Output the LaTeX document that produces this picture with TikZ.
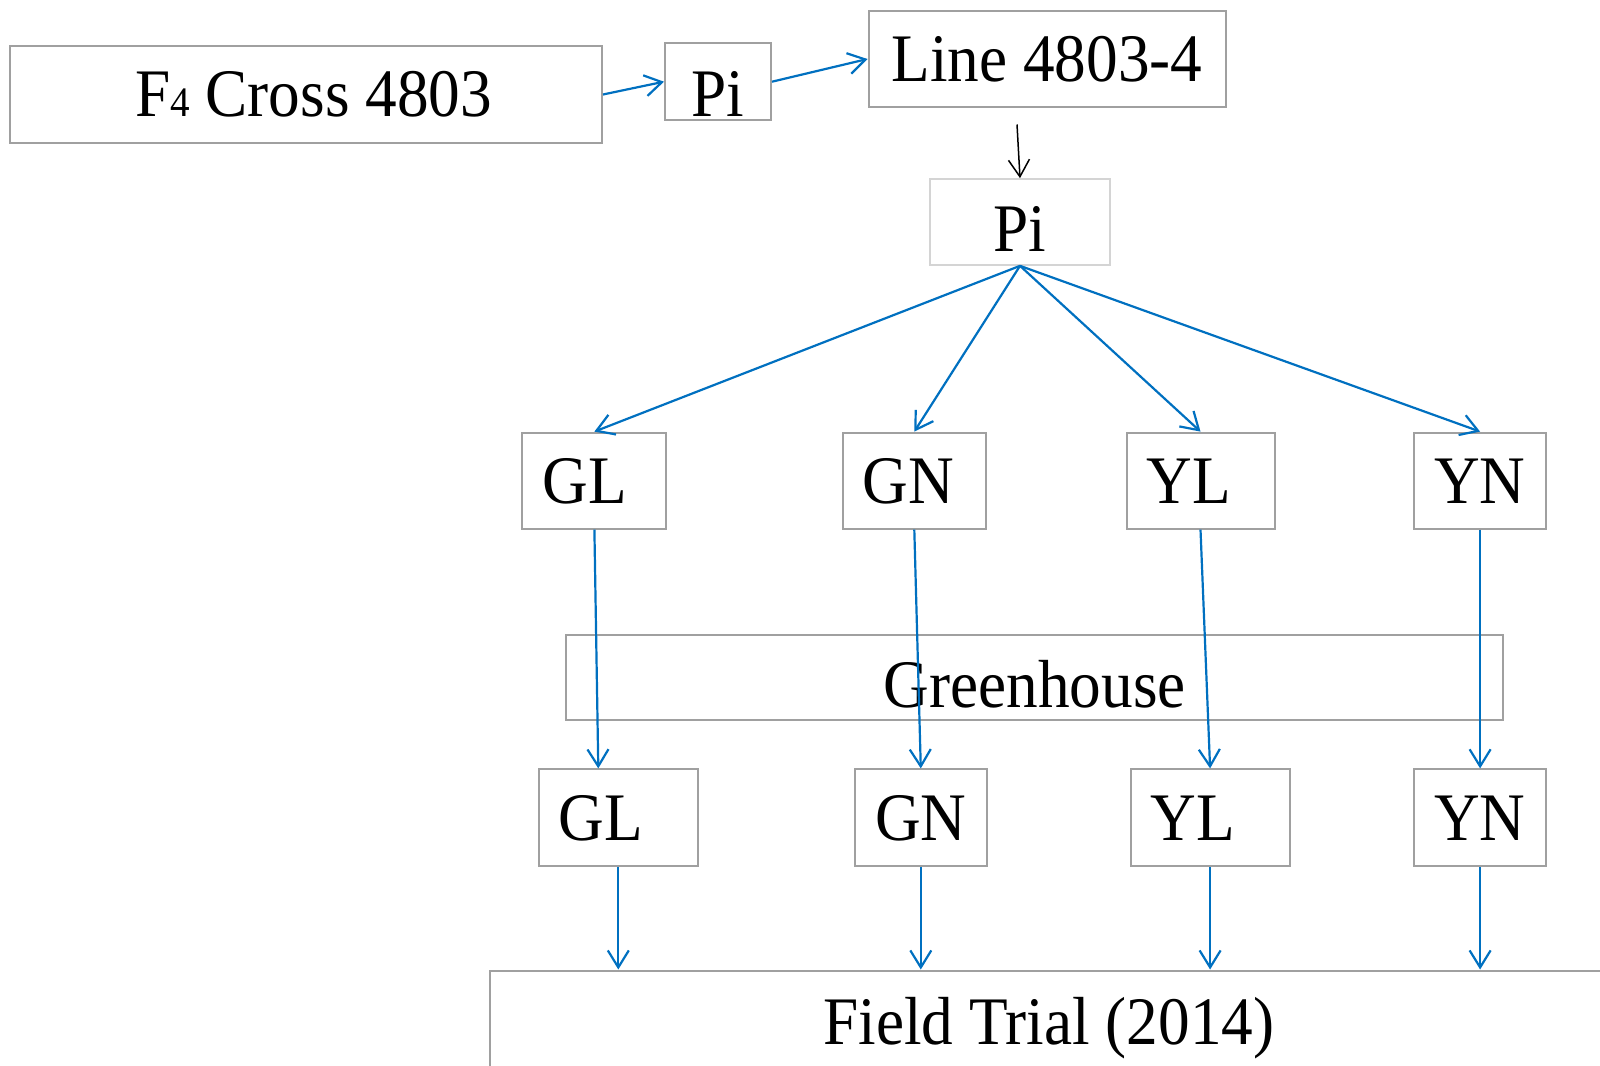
\documentclass[tikz,border=0pt]{standalone}
\usepackage{fontspec}
\setmainfont{Liberation Serif}[FakeStretch=0.93]
\usetikzlibrary{arrows.meta}
\definecolor{boxgray}{RGB}{160,160,160}
\definecolor{palegray}{RGB}{212,212,212}
\definecolor{linkblue}{RGB}{0,112,192}

\begin{document}
\begin{tikzpicture}[x=0.5pt, y=-0.5pt, >={Straight Barb[length=8.5pt,width=10.5pt]},
	box/.style={draw=boxgray, line width=1pt, inner sep=0pt, text height=22.5pt, text depth=0pt,
		font=\fontsize{34pt}{40pt}\selectfont},
	cell/.style={box, anchor=west, inner xsep=10pt, align=left, minimum height=#1},
	link/.style={draw=linkblue, line width=1.1pt, ->}]
	\useasboundingbox (0,0) rectangle (1600,1065);
	\node[box, minimum width=296pt, minimum height=48.5pt] (cross) at (306,94.5)
		{\kern7.5pt F{\fontsize{21pt}{21pt}\selectfont 4} Cross 4803};
	\node[box, minimum width=53pt, minimum height=38.5pt, text height=34.5pt] (pi1) at (718,81.7) {Pi};
	\node[box, minimum width=178.5pt, minimum height=48pt] (line) at (1047,59) {Line 4803-4};
	\node[box, draw=palegray, minimum width=90.3pt, minimum height=42.85pt, text height=29.5pt] (pi2) at (1020,222) {Pi};
	\node[cell=48pt, text width=52pt] (gl1) at (521.4,480.6) {GL};
	\node[cell=48pt, text width=51.5pt] (gn1) at (841.8,480.6) {GN};
	\node[cell=48pt, text width=54pt] (yl1) at (1125.5,480.6) {YL};
	\node[cell=48pt, text width=45.8pt] (yn1) at (1413.3,480.6) {YN};
	\node[box, minimum width=468.35pt, minimum height=42.85pt, text height=29.5pt] (house) at (1034.7,677.5) {Greenhouse};
	\node[cell=48.5pt, text width=59.5pt] (gl2) at (537.8,817.9) {GL};
	\node[cell=48.5pt, text width=45.8pt] (gn2) at (854,817.9) {GN};
	\node[cell=48.5pt, text width=59.5pt] (yl2) at (1129.6,817.9) {YL};
	\node[cell=48.5pt, text width=45.8pt] (yn2) at (1413.3,817.9) {YN};
	\node[box, minimum width=559pt, minimum height=51.5pt] (field) at (1049,1022) {Field Trial (2014)};
	\coordinate (drop) at (1017,124.5);
	\draw[link] (cross.east) -- (pi1.west);
	\draw[link] (pi1.east) -- (line.west);
	\draw (drop) [->, line width=0.75pt] -- (pi2.north);
	\draw[link] (pi2.south) -- (gl1.north);
	\draw[link] (pi2.south) -- (gn1.north);
	\draw[link] (pi2.south) -- (yl1.north);
	\draw[link] (pi2.south) -- (yn1.north);
	\draw[link] (gl1.south) -- ([xshift=-10pt]gl2.north);
	\draw[link] (gn1.south) -- (gn2.north);
	\draw[link] (yl1.south) -- (yl2.north);
	\draw[link] (yn1.south) -- (yn2.north);
	\draw[link] (gl2.south) -- (gl2.south |- field.north);
	\draw[link] (gn2.south) -- (gn2.south |- field.north);
	\draw[link] (yl2.south) -- (yl2.south |- field.north);
	\draw[link] (yn2.south) -- (yn2.south |- field.north);
\end{tikzpicture}
\end{document}
